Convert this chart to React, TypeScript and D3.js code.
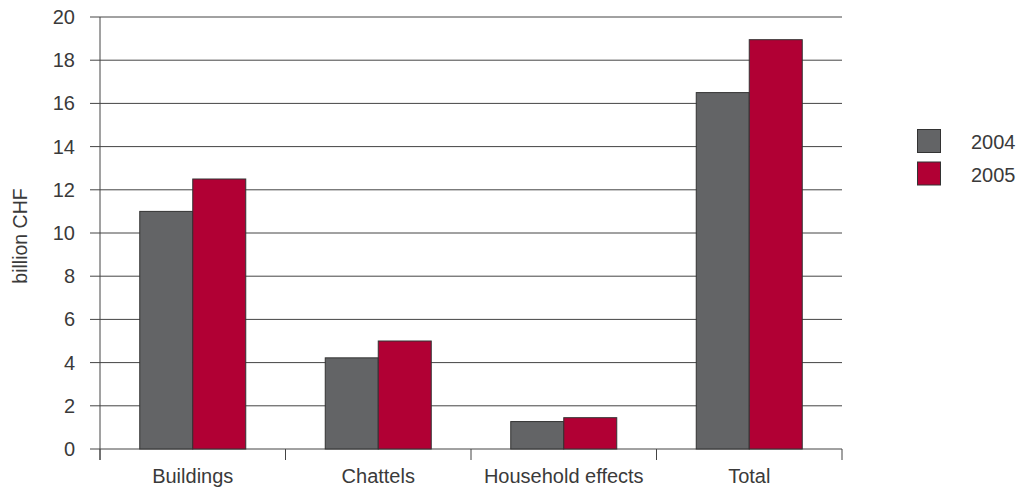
import React from "react";
import * as d3 from "d3";

const categories = ["Buildings", "Chattels", "Household effects", "Total"];
const seriesNames = ["2004", "2005"];
const values2004 = [11.0, 4.22, 1.27, 16.5];
const values2005 = [12.5, 5.0, 1.45, 18.95];
const yTicks = [0, 2, 4, 6, 8, 10, 12, 14, 16, 18, 20];
const colors = ["#636466", "#b10034"];

export default function App() {
  const W = 1021, H = 489;
  const left = 100, right = 842, top = 17, bottom = 449;
  const x = d3.scaleBand<string>().domain(categories).range([left, right]).paddingInner(0).paddingOuter(0);
  const y = d3.scaleLinear().domain([0, 20]).range([bottom, top]);
  const barW = 53;
  const series = [values2004, values2005];
  const font = "'Liberation Sans', Arial, sans-serif";
  const txt = "#3a3a3a";
  const boundaries = [...categories.map((c) => x(c)!), right];
  return (
    <svg width={W} height={H} style={{ position: "absolute", left: 0, top: 0 }} fontFamily={font}>
      {yTicks.map((t) => (
        <g key={t}>
          <line x1={90} x2={right} y1={y(t)} y2={y(t)} stroke="#444" strokeWidth={1} />
          <text x={75} y={y(t) + 7} textAnchor="end" fontSize={20} fill={txt}>{t}</text>
        </g>
      ))}
      <line x1={left} x2={left} y1={top} y2={460} stroke="#444" strokeWidth={1} />
      {boundaries.map((b, i) => (
        <line key={i} x1={b} x2={b} y1={bottom} y2={460} stroke="#444" strokeWidth={1} />
      ))}
      {categories.map((c, i) => {
        const cx = x(c)! + x.bandwidth() / 2;
        return (
          <g key={c}>
            {series.map((s, j) => (
              <rect key={j} x={cx - barW + j * barW} y={y(s[i])} width={barW} height={y(0) - y(s[i])}
                fill={colors[j]} stroke="#333" strokeWidth={1} />
            ))}
            <text x={cx} y={483} textAnchor="middle" fontSize={20} fill={txt}>{c}</text>
          </g>
        );
      })}
      <text transform={`translate(27,236) rotate(-90)`} textAnchor="middle" fontSize={19.5} fill={txt}>billion CHF</text>
      {seriesNames.map((n, i) => (
        <g key={n}>
          <rect x={917.5} y={129.5 + i * 32.5} width={23} height={23} fill={colors[i]} stroke="#333" strokeWidth={1} />
          <text x={971} y={149 + i * 32.5} fontSize={20} fill={txt}>{n}</text>
        </g>
      ))}
    </svg>
  );
}
